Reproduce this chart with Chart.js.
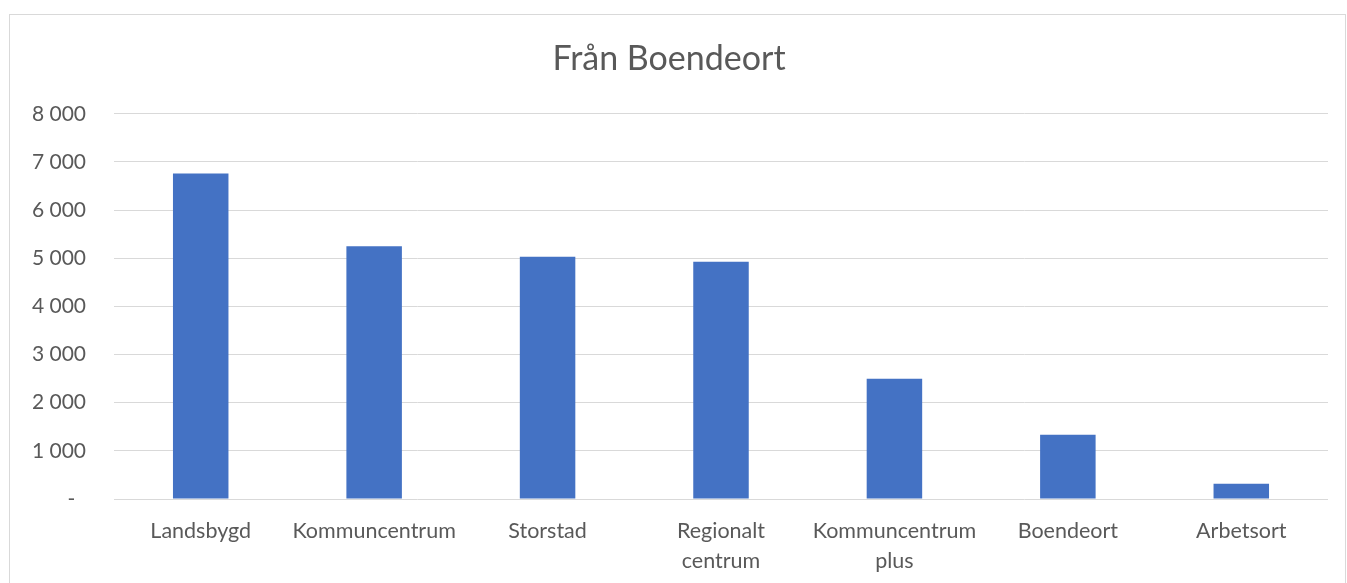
<!DOCTYPE html>
<html>
<head>
<meta charset="utf-8">
<script src="https://cdn.jsdelivr.net/npm/chart.js@4"></script>
<style>
  html, body { margin: 0; padding: 0; background: #fff; }
  #wrap { width: 1347px; height: 583px; position: relative; }
</style>
</head>
<body>
<div id="wrap"><canvas id="myChart" width="1347" height="583"></canvas></div>
<script>
var categories = ['Landsbygd', 'Kommuncentrum', 'Storstad', ['Regionalt', 'centrum'], ['Kommuncentrum', 'plus'], 'Boendeort', 'Arbetsort'];
var values = [6760, 5250, 5030, 4925, 2500, 1335, 315];
var yTicks = [0, 1000, 2000, 3000, 4000, 5000, 6000, 7000, 8000];

function formatTick(v) {
    if (v === 0) return '-  ';
    return String(v).replace(/\B(?=(\d{3})+(?!\d))/g, ' ');
}

var borderBox = {
    id: 'borderBox',
    beforeDraw: function(chart) {
        var ctx = chart.ctx;
        ctx.save();
        ctx.fillStyle = '#fff';
        ctx.fillRect(0, 0, chart.width, chart.height);
        ctx.strokeStyle = '#d9d9d9';
        ctx.lineWidth = 1;
        ctx.strokeRect(9.5, 14.5, 1336, 620);
        ctx.restore();
    }
};

var ctx = document.getElementById('myChart').getContext('2d');
var myChart = new Chart(ctx, {
    type: 'bar',
    data: {
        labels: categories,
        datasets: [{
            label: 'Från Boendeort',
            data: values,
            backgroundColor: '#4472C4',
            borderWidth: 0,
            categoryPercentage: 1,
            barPercentage: 0.32
        }]
    },
    options: {
        responsive: false,
        animation: false,
        layout: { padding: { left: 10, right: 19, top: 0, bottom: 0 } },
        plugins: {
            legend: { display: false },
            tooltip: { enabled: false },
            title: {
                display: true,
                text: 'Från Boendeort',
                color: '#595959',
                font: { family: 'Lato', size: 34, weight: 'normal', lineHeight: 1.2 },
                padding: { top: 39, bottom: 34 }
            }
        },
        scales: {
            x: {
                grid: { display: false },
                border: { display: false },
                ticks: {
                    color: '#595959',
                    font: { family: 'Lato', size: 21.5, lineHeight: 1.4 },
                    padding: 9,
                    maxRotation: 0,
                    autoSkip: false
                },
                afterFit: function(scale) { scale.height = 84; }
            },
            y: {
                min: 0,
                max: 8000,
                afterBuildTicks: function(scale) {
                    scale.ticks = yTicks.map(function(v) { return { value: v }; });
                },
                grid: { color: '#d9d9d9', lineWidth: 1, drawTicks: false },
                border: { display: false },
                ticks: {
                    color: '#595959',
                    font: { family: 'Lato', size: 21 },
                    padding: 28,
                    callback: function(v) { return formatTick(v); }
                },
                afterFit: function(scale) { scale.width = 104; }
            }
        }
    },
    plugins: [borderBox]
});
</script>
</body>
</html>
